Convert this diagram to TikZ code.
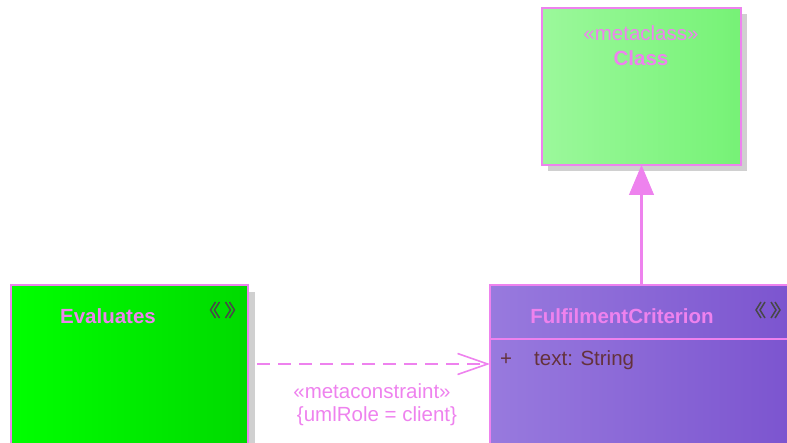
\documentclass[tikz,border=0pt]{standalone}
\usepackage{fontspec}
\setmainfont{Liberation Sans}
\usetikzlibrary{arrows.meta,calc}
\definecolor{umlpink}{RGB}{238,130,238}
\definecolor{shadowgray}{RGB}{208,208,208}
\definecolor{icongray}{RGB}{72,72,72}
\definecolor{attrbrown}{RGB}{100,50,60}
\definecolor{clsL}{RGB}{155,248,155}
\definecolor{clsR}{RGB}{118,242,118}
\definecolor{evL}{RGB}{0,255,0}
\definecolor{evR}{RGB}{0,218,0}
\definecolor{fcL}{RGB}{152,122,222}
\definecolor{fcR}{RGB}{122,82,206}
\begin{document}
\begin{tikzpicture}[x=1pt,y=-1pt,
  umlbox/.style={draw=umlpink, line width=1.4pt, inner sep=0pt, outer sep=0pt,
    anchor=north west, shading=axis, shading angle=90},
  shadowbox/.style={fill=shadowgray, draw=none, inner sep=0pt, outer sep=0pt, anchor=north west},
  txt/.style={font=\fontsize{20.5}{24}\selectfont, inner sep=0pt},
  title/.style={txt, font=\fontsize{20.5}{24}\selectfont\bfseries, text=umlpink},
  stereo/.style={txt, text=umlpink},
  conn/.style={draw=umlpink, line width=1.6pt},
  stereoicon/.pic={
    \begin{scope}[draw=icongray, line width=1.5pt, line join=miter]
      \draw (-7,-8) -- (-12,0) -- (-7,8);
      \draw (-3,-8) -- (-8,0) -- (-3,8);
      \draw (7,-8) -- (12,0) -- (7,8);
      \draw (3,-8) -- (8,0) -- (3,8);
    \end{scope}
  }
]
\useasboundingbox (0,0) rectangle (787,443);
\clip (0,0) rectangle (787,443);

% drop shadows
\node[shadowbox, minimum width=199pt, minimum height=157pt] at (548,14) {};
\node[shadowbox, minimum width=237pt, minimum height=170pt] at (18,292) {};

% metaclass Class
\node[umlbox, left color=clsL, right color=clsR, minimum width=199pt, minimum height=157pt] (cls) at (542,8) {};
\node[stereo] (clsst) at (641,33) {«metaclass»};
\node[title] (clsname) at (641,58) {Class};

% Evaluates
\node[umlbox, left color=evL, right color=evR, minimum width=237pt, minimum height=170pt] (ev) at (11,285) {};
\node[title] (evname) at (108,316) {Evaluates};
\pic (evicon) at (222.5,310) {stereoicon};

% FulfilmentCriterion
\node[umlbox, left color=fcL, right color=fcR, minimum width=320pt, minimum height=170pt] (fc) at (490,285) {};
\draw[draw=umlpink, line width=1.4pt] (fc.west |- 0,339) coordinate (hl) -- (fc.east |- hl);
\node[title] (fcname) at (622,316) {FulfilmentCriterion};
\pic (fcicon) at (768,310) {stereoicon};
\node[txt, text=attrbrown] (fcvis) at (506,360) {+};
\node[txt, text=attrbrown, anchor=west] (fcattr) at (534,360) {text: String};

% dependency with metaconstraint
\coordinate (dstart) at (257,364);
\draw[conn, dash pattern=on 13pt off 8pt, -{Straight Barb[length=30pt,width=21pt]}] (dstart) -- (fc.west |- dstart);
\node[stereo] (mcst) at (372,391) {«metaconstraint»};
\node[stereo] (mcrole) at (377,416) {\{umlRole = client\}};

% generalization
\draw[conn, line width=2.2pt, -{Triangle[length=30pt,width=25pt,fill=umlpink,line width=1pt]}] (fc.north -| cls.south) -- (cls.south);
\end{tikzpicture}
\end{document}
